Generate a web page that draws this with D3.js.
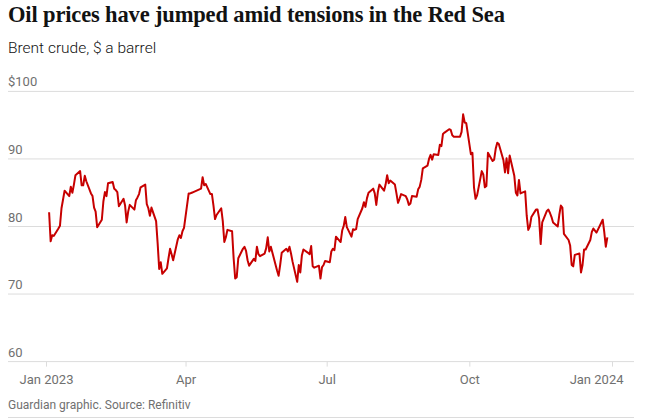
<!DOCTYPE html>
<html>
<head>
<meta charset="utf-8">
<script src="https://cdn.jsdelivr.net/npm/d3@7"></script>
<style>
  body { margin: 0; background: #fff; }
  svg { display: block; }
</style>
</head>
<body>
<svg id="svg"></svg>
<script>
const WIDTH = 662, HEIGHT = 419;

// Brent crude close, [day of month, $ a barrel]
const jan23 = [[3,82.1],[4,77.8],[5,78.7],[6,78.6],[9,79.7],[10,80.1],[11,82.7],[12,84.0],[13,85.3],[16,84.5],[17,85.9],[18,85.0],[19,86.2],[20,87.6],[23,88.2],[24,86.1],[25,86.1],[26,87.5],[27,86.7],[30,84.9],[31,84.5]];
const feb23 = [[1,82.8],[2,82.2],[3,79.9],[6,81.0],[7,83.7],[8,85.1],[9,84.5],[10,86.4],[13,86.6],[14,85.6],[15,85.4],[16,85.1],[17,83.0],[20,84.1],[21,83.1],[22,80.6],[23,82.2],[24,83.2],[27,82.5],[28,83.9]];
const mar23 = [[1,84.3],[2,84.8],[3,85.8],[6,86.2],[7,83.3],[8,82.7],[9,81.6],[10,82.8],[13,80.8],[14,77.5],[15,73.7],[16,74.7],[17,73.0],[20,73.8],[21,75.3],[22,76.7],[23,75.9],[24,75.0],[27,78.1],[28,78.7],[29,78.3],[30,79.3],[31,79.8]];
const apr23 = [[3,84.9],[4,84.9],[5,85.0],[6,85.1],[11,85.6],[12,87.3],[13,86.1],[14,86.3],[17,84.8],[18,84.8],[19,83.1],[20,81.1],[21,81.7],[24,82.7],[25,80.8],[26,77.7],[27,78.4],[28,79.5]];
const may23 = [[1,79.3],[2,75.3],[3,72.3],[4,72.5],[5,75.3],[8,76.7],[9,77.0],[10,76.4],[11,75.0],[12,74.2],[15,75.2],[16,74.9],[17,77.0],[18,75.9],[19,75.6],[22,76.0],[23,76.8],[24,78.4],[25,76.3],[26,77.0],[30,73.5],[31,72.7]];
const jun23 = [[1,74.3],[2,76.1],[5,76.7],[6,76.3],[7,77.0],[8,76.0],[9,74.8],[12,71.8],[13,74.3],[14,73.2],[15,75.7],[16,76.6],[19,76.1],[20,75.9],[21,77.1],[22,74.1],[23,73.9],[26,74.2],[27,72.3],[28,74.0],[29,74.3],[30,74.9]];
const jul23 = [[3,74.7],[4,76.3],[5,76.7],[6,76.5],[7,78.5],[10,77.7],[11,79.4],[12,80.1],[13,81.4],[14,79.9],[17,78.5],[18,79.6],[19,79.5],[20,79.6],[21,81.1],[24,82.7],[25,83.6],[26,82.9],[27,84.2],[28,85.0],[31,85.6]];
const aug23 = [[1,84.9],[2,83.2],[3,85.1],[4,86.2],[7,85.3],[8,86.2],[9,87.6],[10,86.4],[11,86.8],[14,86.2],[15,84.9],[16,83.5],[17,84.1],[18,84.8],[21,84.5],[22,84.0],[23,83.2],[24,83.4],[25,84.5],[28,84.4],[29,85.5],[30,85.9],[31,86.9]];
const sep23 = [[1,88.6],[4,89.0],[5,90.0],[6,90.6],[7,89.9],[8,90.7],[11,90.6],[12,92.1],[13,91.9],[14,93.7],[15,93.9],[18,94.4],[19,94.3],[20,93.5],[21,93.3],[22,93.3],[25,93.3],[26,94.0],[27,96.6],[28,95.4],[29,95.3]];
const oct23 = [[2,90.7],[3,90.9],[4,85.8],[5,84.1],[6,84.6],[9,88.2],[10,87.7],[11,85.8],[12,86.0],[13,90.9],[16,89.7],[17,89.9],[18,91.5],[19,92.4],[20,92.2],[23,89.8],[24,88.0],[25,90.1],[26,87.9],[27,90.5],[30,87.5],[31,85.0]];
const nov23 = [[1,84.6],[2,86.9],[3,84.9],[6,85.2],[7,81.6],[8,79.5],[9,80.0],[10,81.4],[13,82.5],[14,82.5],[15,81.2],[16,77.4],[17,80.6],[20,82.3],[21,82.5],[22,82.0],[23,81.4],[24,80.6],[27,80.0],[28,81.7],[29,83.1],[30,82.8]];
const dec23 = [[1,78.9],[4,78.0],[5,77.2],[6,74.3],[7,74.1],[8,75.8],[11,76.0],[12,73.2],[13,74.3],[14,76.6],[15,76.6],[18,78.0],[19,79.2],[20,79.7],[21,79.4],[22,79.1],[26,81.0],[27,79.2],[28,77.0],[29,78.4]];

const months = [jan23, feb23, mar23, apr23, may23, jun23, jul23, aug23, sep23, oct23, nov23, dec23];
const yTicks = [60, 70, 80, 90, 100];
const xTicks = [new Date(2023,0,1), new Date(2023,3,1), new Date(2023,6,1), new Date(2023,9,1), new Date(2024,0,1)];
const xTickLabels = ['Jan 2023', 'Apr', 'Jul', 'Oct', 'Jan 2024'];

const data = [];
months.forEach((m, i) => m.forEach(d => data.push({date: new Date(2023, i, d[0]), price: d[1]})));

const svg = d3.select('#svg').attr('width', WIDTH).attr('height', HEIGHT);

const x = d3.scaleTime().domain([new Date(2023,0,1), new Date(2024,0,1)]).range([46, 612]);
const y = d3.scaleLinear().domain([60, 100]).range([361.6, 91.4]);

const SANS = 'Roboto, "Noto Sans", sans-serif';

svg.append('text')
    .attr('x', 8).attr('y', 22)
    .attr('font-family', '"Liberation Serif", "DejaVu Serif", serif')
    .attr('font-weight', 700).attr('font-size', 22.5)
    .attr('letter-spacing', -0.15)
    .attr('fill', '#121212')
    .text('Oil prices have jumped amid tensions in the Red Sea');

svg.append('text')
    .attr('x', 8).attr('y', 53)
    .attr('font-family', SANS).attr('font-weight', 300).attr('font-size', 15.5)
    .attr('fill', '#121212')
    .text('Brent crude, $ a barrel');

// gridlines + y labels
const grid = svg.append('g');
grid.selectAll('line').data(yTicks).join('line')
    .attr('x1', 8).attr('x2', 634)
    .attr('y1', d => y(d)).attr('y2', d => y(d))
    .attr('stroke', '#dcdcdc').attr('stroke-width', 1);
grid.selectAll('text').data(yTicks).join('text')
    .attr('x', 8).attr('y', d => y(d) - 5)
    .attr('font-family', SANS).attr('font-size', 13)
    .attr('fill', '#707070')
    .text(d => d == 100 ? '$' + d : d);

// x axis
const xAxis = d3.axisBottom(x)
    .tickValues(xTicks)
    .tickSize(5)
    .tickFormat((d, i) => xTickLabels[i]);
const gx = svg.append('g').attr('transform', 'translate(0,' + y(60) + ')').call(xAxis);
gx.select('.domain').remove();
gx.selectAll('.tick line').attr('stroke', '#dcdcdc');
gx.selectAll('.tick text')
    .attr('y', 13)
    .attr('font-family', SANS).attr('font-size', 13)
    .attr('fill', '#707070');
// keep the last label inside the gridlines
gx.selectAll('.tick text').filter((d, i) => i == xTicks.length - 1)
    .attr('text-anchor', 'end').attr('x', 11);

// price line
const line = d3.line().x(d => x(d.date)).y(d => y(d.price));
svg.append('path').datum(data)
    .attr('d', line)
    .attr('fill', 'none')
    .attr('stroke', '#c70000').attr('stroke-width', 2)
    .attr('stroke-linejoin', 'round');

// footer
svg.append('text')
    .attr('x', 8).attr('y', 409)
    .attr('font-family', SANS).attr('font-size', 12)
    .attr('fill', '#707070')
    .text('Guardian graphic. Source: Refinitiv');
svg.append('line')
    .attr('x1', 8).attr('x2', 634).attr('y1', 417.5).attr('y2', 417.5)
    .attr('stroke', '#dcdcdc');
</script>
</body>
</html>
